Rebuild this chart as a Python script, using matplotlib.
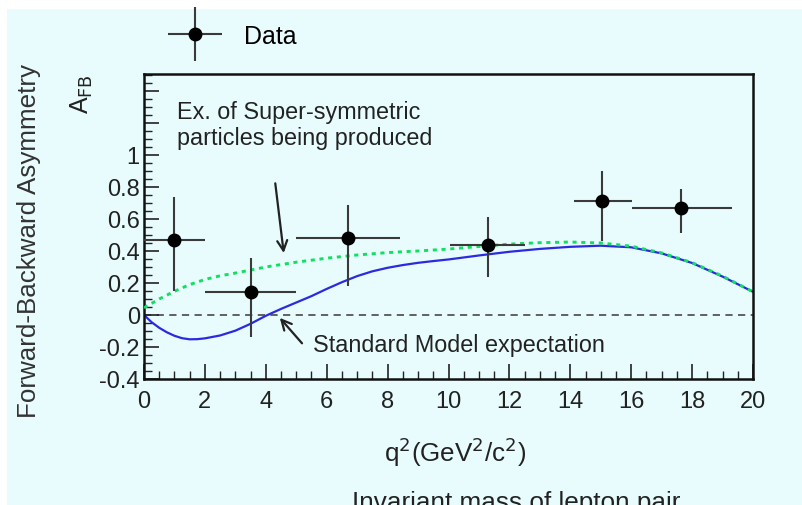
import matplotlib
matplotlib.use("Agg")
import matplotlib.pyplot as plt
from matplotlib.patches import Rectangle
from matplotlib.legend_handler import HandlerErrorbar
from matplotlib.ticker import MultipleLocator, FixedLocator

plt.rcParams['font.family'] = ['Liberation Sans', 'DejaVu Sans']

# --- data ---
data_x = [1.0, 3.5, 6.7, 11.3, 15.05, 17.65]
data_y = [0.47, 0.145, 0.48, 0.44, 0.71, 0.67]
data_xlo = [1.0, 1.5, 1.7, 1.25, 0.93, 1.62]
data_xhi = [1.0, 1.5, 1.7, 1.2, 0.98, 1.65]
data_ylo = [0.32, 0.28, 0.30, 0.20, 0.25, 0.16]
data_yhi = [0.27, 0.21, 0.21, 0.17, 0.19, 0.12]

sm_x = [0, 0.25, 0.5, 0.75, 1, 1.25, 1.5, 1.75, 2, 2.5, 3, 3.5, 4, 4.5, 5, 5.5,
        6, 6.5, 7, 7.5, 8, 8.5, 9, 9.5, 10, 11, 12, 13, 14, 15, 16, 17, 18,
        19, 20]
sm_y = [0, -0.045, -0.08, -0.108, -0.13, -0.145, -0.152, -0.151, -0.146,
        -0.128, -0.098, -0.055, -0.005, 0.038, 0.078, 0.118, 0.163, 0.205,
        0.243, 0.273, 0.295, 0.312, 0.326, 0.337, 0.347, 0.372, 0.395, 0.413,
        0.426, 0.433, 0.423, 0.385, 0.325, 0.24, 0.145]

susy_x = [0, 0.5, 1, 1.5, 2, 2.5, 3, 4, 5, 6, 7, 8, 9, 10, 11, 12, 13, 14, 15,
          16, 17, 18, 19, 20]
susy_y = [0.045, 0.1, 0.148, 0.19, 0.222, 0.245, 0.262, 0.3, 0.33, 0.355,
          0.375, 0.39, 0.4, 0.412, 0.428, 0.443, 0.452, 0.456, 0.45, 0.43,
          0.388, 0.327, 0.243, 0.145]

x_ticks = [0, 2, 4, 6, 8, 10, 12, 14, 16, 18, 20]
y_ticks = [-0.4, -0.2, 0, 0.2, 0.4, 0.6, 0.8, 1.0]
y_ticklabels = ['-0.4', '-0.2', '0', '0.2', '0.4', '0.6', '0.8', '1']

bg = '#e8fcfd'
ink = '#3a3a3a'

fig = plt.figure(figsize=(8.02, 5.06), dpi=100)
fig.patch.set_facecolor('white')
fig.patches.append(Rectangle((7 / 802, 0), 1, 1 - 10 / 506, transform=fig.transFigure,
                             facecolor=bg, edgecolor='none', zorder=-10))

ax = fig.add_axes([144 / 802, 126 / 506, 609 / 802, 305 / 506])
ax.set_facecolor(bg)
ax.set_xlim(0, 20)
ax.set_ylim(-0.4, 1.506)

# zero line
ax.axhline(0, color='#555555', lw=1.3, ls=(0, (4, 3)), zorder=1)

# curves
ax.plot(sm_x, sm_y, color='#2a2ae0', lw=1.6, zorder=2)
ax.plot(susy_x, susy_y, color='#10e060', lw=2.1, ls=(0, (1.4, 1.6)), zorder=3)

# data
eb = ax.errorbar(data_x, data_y, xerr=[data_xlo, data_xhi], yerr=[data_ylo, data_yhi],
                 fmt='o', color='black', ecolor=ink, elinewidth=1.5, capsize=0,
                 markersize=9, zorder=4, label='Data')

# annotations
ax.text(1.1, 1.345, 'Ex. of Super-symmetric\nparticles being produced',
        fontsize=16.8, va='top', ha='left', color='#222222', linespacing=1.2)
ax.annotate('', xy=(4.6, 0.37), xytext=(4.3, 0.84),
            arrowprops=dict(arrowstyle='->', color='#222222', lw=1.6,
                            mutation_scale=18))
ax.text(5.55, -0.185, 'Standard Model expectation', fontsize=16.8, va='center',
        ha='left', color='#222222')
ax.annotate('', xy=(4.4, -0.005), xytext=(5.25, -0.19),
            arrowprops=dict(arrowstyle='->', color='#222222', lw=1.6,
                            mutation_scale=18))

# ticks
ax.xaxis.set_major_locator(FixedLocator(x_ticks))
ax.xaxis.set_minor_locator(MultipleLocator(0.5))
ax.yaxis.set_major_locator(FixedLocator(y_ticks + [1.2, 1.4]))
ax.yaxis.set_minor_locator(MultipleLocator(0.05))
ax.set_yticklabels(y_ticklabels + ['', ''])
ax.tick_params(which='both', direction='in', top=False, right=False,
               colors='#222222', labelsize=17)
ax.tick_params(which='major', length=11, width=1.2)
ax.tick_params(which='minor', length=6, width=1.0)
ax.tick_params(axis='x', pad=8)
ax.tick_params(axis='y', pad=3)
for s in ax.spines.values():
    s.set_linewidth(1.8)
    s.set_color('#111111')

# labels
fig.text(29 / 802, 1 - 241 / 506, 'Forward-Backward Asymmetry', rotation=90,
         fontsize=18.7, ha='center', va='center', color='#333333')
fig.text(82 / 802, 1 - 94 / 506, r'A$_{\mathrm{FB}}$', rotation=90,
         fontsize=18, ha='center', va='center', color='#222222')
fig.text(455 / 802, 1 - 452 / 506, r'q$^{2}$(GeV$^{2}$/c$^{2}$)',
         fontsize=18.7, ha='center', va='center', color='#222222')
fig.text(516 / 802, 1 - 510 / 506, 'Invariant mass of lepton pair',
         fontsize=18.8, ha='center', va='baseline', color='#222222')

# legend
ax.legend(handles=[eb], labels=['Data'], loc='center left',
          bbox_to_anchor=(167 / 802, 1 - 37 / 506), bbox_transform=fig.transFigure,
          frameon=False, fontsize=18, handlelength=2.2, handletextpad=0.9,
          borderpad=0, borderaxespad=0,
          handler_map={type(eb): HandlerErrorbar(xerr_size=1.08)})

fig.savefig('out.png', dpi=100, facecolor=fig.get_facecolor())
